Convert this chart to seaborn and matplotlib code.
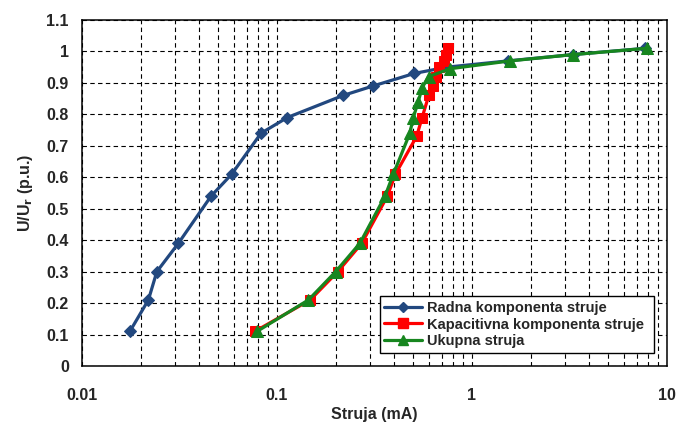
import matplotlib
matplotlib.use("Agg")
import matplotlib.pyplot as plt
import seaborn as sns
import pandas as pd
from matplotlib.ticker import LogLocator, FixedLocator, FuncFormatter
from matplotlib.lines import Line2D

# ---- data ----
radna_x = [0.0176, 0.0219, 0.0242, 0.0312, 0.0459, 0.0586, 0.0828, 0.113, 0.218, 0.31, 0.505, 0.74, 1.53, 3.28, 7.75]
radna_y = [0.11, 0.21, 0.30, 0.39, 0.54, 0.61, 0.74, 0.79, 0.86, 0.89, 0.93, 0.95, 0.97, 0.99, 1.01]

kap_x = [0.077, 0.148, 0.205, 0.272, 0.368, 0.405, 0.52, 0.555, 0.60, 0.63, 0.655, 0.68, 0.715, 0.735, 0.75]
kap_y = [0.11, 0.21, 0.30, 0.39, 0.54, 0.61, 0.73, 0.79, 0.86, 0.89, 0.92, 0.95, 0.97, 0.99, 1.01]

uk_x = [0.079, 0.145, 0.200, 0.266, 0.358, 0.395, 0.48, 0.50, 0.53, 0.555, 0.60, 0.77, 1.57, 3.3, 7.87]
uk_y = [0.11, 0.21, 0.30, 0.39, 0.54, 0.61, 0.74, 0.79, 0.84, 0.885, 0.92, 0.945, 0.97, 0.99, 1.01]

labels = ["Radna komponenta struje", "Kapacitivna komponenta struje", "Ukupna struja"]
colors = ["#22487F", "#FF0000", "#17861F"]
markers = ["D", "s", "^"]
msizes = [6.5, 7.5, 8.5]

x_ticks = [0.01, 0.1, 1, 10]
y_ticks = [0, 0.1, 0.2, 0.3, 0.4, 0.5, 0.6, 0.7, 0.8, 0.9, 1.0, 1.1]

sns.set_style("white")
plt.rcParams["font.family"] = ["Liberation Sans", "DejaVu Sans"]

fig = plt.figure(figsize=(6.77, 4.25), dpi=100)
ax = fig.add_axes([82 / 677, 1 - 366 / 425, 585 / 677, 346 / 425])

series = [(radna_x, radna_y), (kap_x, kap_y), (uk_x, uk_y)]
for (xs, ys), lab, c, m, ms in zip(series, labels, colors, markers, msizes):
    df = pd.DataFrame({"x": xs, "y": ys})
    sns.lineplot(data=df, x="x", y="y", sort=False, ax=ax, color=c, lw=2.3,
                 marker=m, markersize=ms, markeredgecolor=c, markerfacecolor=c,
                 label=lab, zorder=3)

ax.set_xscale("log")
ax.set_xlim(0.01, 10)
ax.set_ylim(0, 1.1)

ax.xaxis.set_major_locator(FixedLocator(x_ticks))
ax.xaxis.set_minor_locator(LogLocator(base=10, subs=[2, 3, 4, 5, 6, 7, 8, 9], numticks=20))
ax.xaxis.set_major_formatter(FuncFormatter(lambda v, p: f"{v:g}"))
ax.xaxis.set_minor_formatter(FuncFormatter(lambda v, p: ""))
ax.yaxis.set_major_locator(FixedLocator(y_ticks))
ax.yaxis.set_major_formatter(FuncFormatter(lambda v, p: f"{v:g}"))

grid_kw = dict(color="black", lw=0.8, linestyle=(0, (4, 3)))
ax.grid(True, which="major", axis="both", **grid_kw)
ax.grid(True, which="minor", axis="x", **grid_kw)
ax.set_axisbelow(True)

for s in ax.spines.values():
    s.set_color("black")
    s.set_linewidth(1.1)

ax.tick_params(axis="x", which="major", direction="inout", length=7, width=1,
               pad=12, labelsize=11.5, color="#555555")
ax.tick_params(axis="x", which="minor", direction="in", length=4, width=0.8, color="#555555")
ax.tick_params(axis="y", which="major", direction="inout", length=7, width=1,
               pad=6, labelsize=11.5, color="#555555")
for lbl in ax.get_xticklabels() + ax.get_yticklabels():
    lbl.set_fontweight("bold")

ax.set_xlabel("Struja (mA)", fontsize=11.5, fontweight="bold", labelpad=3)
ax.set_ylabel(r"U/U$_\mathbf{r}$ (p.u.)", fontsize=11.5, fontweight="bold", labelpad=8)

handles = [Line2D([0], [0], color=c, lw=2.3, marker=m, markersize=ms - 1,
                  markerfacecolor=c, markeredgecolor=c)
           for c, m, ms in zip(colors, markers, msizes)]
leg = ax.legend(handles, labels, loc="lower left",
                bbox_to_anchor=(0.497, 0.017, 0.493, 0.194), mode="expand",
                frameon=True, fancybox=False, framealpha=1, edgecolor="black",
                handlelength=2.6, handletextpad=0.3, borderpad=0.3,
                labelspacing=0.2, prop={"weight": "bold", "size": 10.5})
leg.get_frame().set_linewidth(1.0)
leg.set_zorder(5)

fig.savefig("out.png", dpi=100)
